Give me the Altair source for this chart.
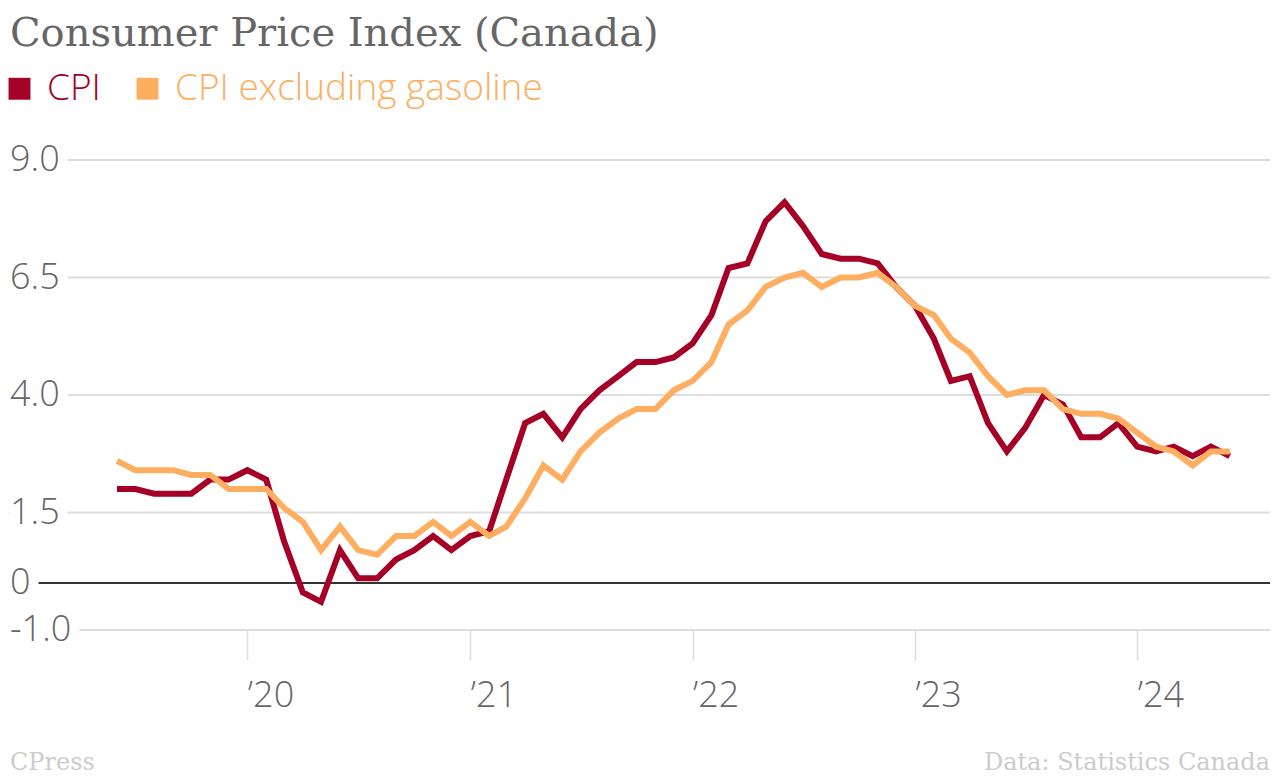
import altair as alt
import pandas as pd

# ---------------- data ----------------
months = pd.date_range("2019-06-01", "2024-06-01", freq="MS").strftime("%Y-%m-%d").tolist()

cpi = [2.0, 2.0, 1.9, 1.9, 1.9, 2.2, 2.2,
       2.4, 2.2, 0.9, -0.2, -0.4, 0.7, 0.1, 0.1, 0.5, 0.7, 1.0, 0.7,
       1.0, 1.1, 2.2, 3.4, 3.6, 3.1, 3.7, 4.1, 4.4, 4.7, 4.7, 4.8,
       5.1, 5.7, 6.7, 6.8, 7.7, 8.1, 7.6, 7.0, 6.9, 6.9, 6.8, 6.3,
       5.9, 5.2, 4.3, 4.4, 3.4, 2.8, 3.3, 4.0, 3.8, 3.1, 3.1, 3.4,
       2.9, 2.8, 2.9, 2.7, 2.9, 2.7]

cpi_ex_gasoline = [2.6, 2.4, 2.4, 2.4, 2.3, 2.3, 2.0,
                   2.0, 2.0, 1.6, 1.3, 0.7, 1.2, 0.7, 0.6, 1.0, 1.0, 1.3, 1.0,
                   1.3, 1.0, 1.2, 1.8, 2.5, 2.2, 2.8, 3.2, 3.5, 3.7, 3.7, 4.1,
                   4.3, 4.7, 5.5, 5.8, 6.3, 6.5, 6.6, 6.3, 6.5, 6.5, 6.6, 6.3,
                   5.9, 5.7, 5.2, 4.9, 4.4, 4.0, 4.1, 4.1, 3.7, 3.6, 3.6, 3.5,
                   3.2, 2.9, 2.8, 2.5, 2.8, 2.8]

series_names = ["CPI", "CPI excluding gasoline"]
series_colors = ["#a50026", "#fdae61"]

year_ticks = [2020, 2021, 2022, 2023, 2024]
y_grid = [9.0, 6.5, 4.0, 1.5, -1.0]
y_label_values = [9.0, 6.5, 4.0, 1.5, 0.0, -1.0]
y_label_texts = ["9.0", "6.5", "4.0", "1.5", "0", "-1.0"]

title_text = "Consumer Price Index (Canada)"
credit_text = "CPress"
source_text = "Data: Statistics Canada"

# ---------------- tables ----------------
df = pd.concat([
    pd.DataFrame({"month": months, "value": cpi, "series": series_names[0]}),
    pd.DataFrame({"month": months, "value": cpi_ex_gasoline, "series": series_names[1]}),
])
ylab = pd.DataFrame({"v": y_label_values, "t": y_label_texts})
grid = pd.DataFrame({"v": y_grid})
zero = pd.DataFrame({"v": [0.0]})

W, H = 1262, 470
SANS = "Open Sans"

x_scale = alt.Scale(type="utc",
                    domain=[alt.DateTime(year=2018, month=12, date=4, utc=True),
                            alt.DateTime(year=2024, month=8, date=6, utc=True)])
y_scale = alt.Scale(domain=[-1, 9], nice=False, zero=False)

lines = alt.Chart(df).mark_line(strokeWidth=6).encode(
    x=alt.X("month:T", scale=x_scale, title=None,
            axis=alt.Axis(values=[alt.DateTime(year=y, month=1, date=1, utc=True) for y in year_ticks],
                          labelExpr="'\u2019' + utcFormat(datum.value, '%y')",
                          domain=False, grid=False, ticks=True, tickSize=30,
                          tickColor="#dddddd", tickWidth=1.5,
                          labelAlign="left", labelBaseline="top", labelPadding=18,
                          labelFont=SANS, labelFontWeight=300,
                          labelFontSize=36, labelColor="#666666")),
    y=alt.Y("value:Q", scale=y_scale, title=None, axis=None),
    color=alt.Color("series:N",
                    scale=alt.Scale(domain=series_names, range=series_colors),
                    legend=alt.Legend(
                        title=None, orient="none", legendX=-7, legendY=-90,
                        direction="horizontal", symbolType="square", symbolSize=480,
                        symbolStrokeWidth=0, symbolOpacity=1,
                        symbolFillColor=alt.ExprRef("scale('color', datum.value)"),
                        labelColor=alt.ExprRef("scale('color', datum.value)"),
                        labelFont=SANS, labelFontWeight=300, labelFontSize=37,
                        labelOffset=9, columnPadding=28, labelLimit=800)),
)

grid_rules = alt.Chart(grid).mark_rule(color="#dddddd", strokeWidth=2).encode(
    y=alt.Y("v:Q", scale=y_scale, axis=None),
    x=alt.value(0), x2=alt.value(W),
)

zero_rule = alt.Chart(zero).mark_rule(color="#333333", strokeWidth=2).encode(
    y=alt.Y("v:Q", scale=y_scale, axis=None),
    x=alt.value(0), x2=alt.value(W),
)

label_halo = alt.Chart(ylab).mark_text(
    align="left", baseline="middle", font=SANS, fontWeight=300, fontSize=36,
    stroke="white", strokeWidth=20, strokeJoin="round", fill="white",
).encode(y=alt.Y("v:Q", scale=y_scale, axis=None), x=alt.value(2), text="t:N")

label_text = alt.Chart(ylab).mark_text(
    align="left", baseline="middle", font=SANS, fontWeight=300, fontSize=36,
    color="#666666",
).encode(y=alt.Y("v:Q", scale=y_scale, axis=None), x=alt.value(2), text="t:N")

credit = alt.Chart(pd.DataFrame({"t": [credit_text]})).mark_text(
    align="left", baseline="alphabetic", font="DejaVu Serif", fontSize=24, color="#cccccc",
).encode(x=alt.value(2), y=alt.value(H + 140), text="t:N")

source = alt.Chart(pd.DataFrame({"t": [source_text]})).mark_text(
    align="right", baseline="alphabetic", font="DejaVu Serif", fontSize=24, color="#cccccc",
).encode(x=alt.value(W), y=alt.value(H + 140), text="t:N")

chart = alt.layer(grid_rules, zero_rule, label_halo, label_text, lines, credit, source).properties(
    width=W, height=H,
    title=alt.TitleParams(title_text, anchor="start", font="DejaVu Serif", fontSize=40,
                          fontWeight="normal", color="#666666", offset=16, dx=9),
    autosize=alt.AutoSizeParams(type="none"),
    padding={"left": 0, "top": 152, "right": 2, "bottom": 146},
).configure(background="white").configure_view(strokeWidth=0)

chart.save("out.html", embed_options={"renderer": "svg", "actions": False})
